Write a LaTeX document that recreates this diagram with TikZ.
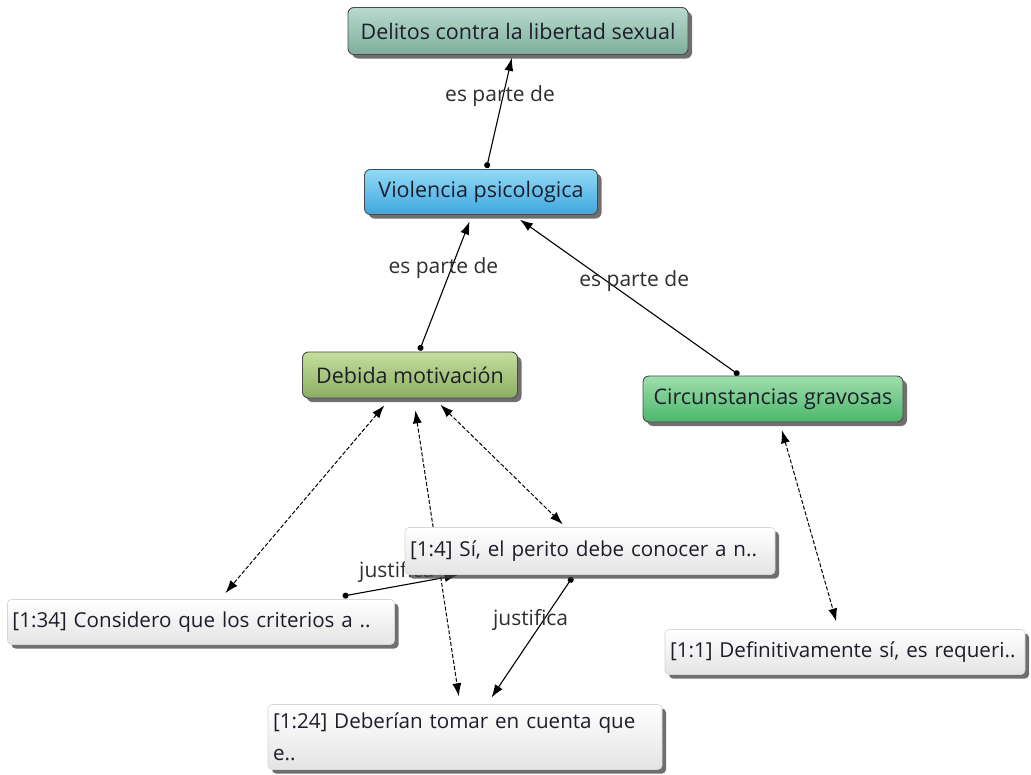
\documentclass[tikz,border=0pt]{standalone}
\usepackage{fontspec}
\setmainfont{Open Sans}
\usetikzlibrary{arrows.meta,shadows}
\definecolor{delTop}{HTML}{B8DACE}
\definecolor{delBot}{HTML}{7EAE9C}
\definecolor{vioTop}{HTML}{92DAF6}
\definecolor{vioBot}{HTML}{3FA6DE}
\definecolor{debTop}{HTML}{C4DE9E}
\definecolor{debBot}{HTML}{8CAE60}
\definecolor{cirTop}{HTML}{A0DEAE}
\definecolor{cirBot}{HTML}{4AB66A}
\definecolor{quoBot}{HTML}{E4E4E4}
\definecolor{quoBorder}{HTML}{D6D6D6}
\definecolor{boxBorder}{HTML}{4A4A4A}
\definecolor{txt}{HTML}{1E1E2A}
\definecolor{lbltxt}{HTML}{2E2E2E}
\pgfdeclarelayer{back}
\pgfdeclarelayer{bg}
\pgfsetlayers{back,bg,main}
\begin{document}
\begin{tikzpicture}[x=1pt,y=-1pt,
  shadowed/.style={drop shadow={shadow xshift=4pt,shadow yshift=-4pt,fill=black!75,opacity=0.75}},
  concept/.style={shadowed,draw=boxBorder,line width=0.9pt,rounded corners=6pt,
    inner sep=0pt,text=txt,font=\fontsize{21.5}{25}\selectfont},
  quote/.style={shadowed,draw=quoBorder,line width=0.6pt,rounded corners=4pt,
    top color=white,bottom color=quoBot,inner xsep=5pt,inner ysep=0pt,align=left,
    text=txt,font=\fontsize{20.6}{32}\selectfont},
  rel/.style={line width=1.1pt,{Circle[length=6pt]}-{Latex[length=13pt,width=9pt]},shorten <=1pt},
  link/.style={line width=1pt,dash pattern=on 4pt off 2pt,{Latex[length=13pt,width=9pt]}-{Latex[length=13pt,width=9pt]}},
  lbl/.style={text=lbltxt,font=\fontsize{21}{25}\selectfont,inner sep=0pt}
]
\begin{pgfonlayer}{back}
\fill[white] (0,0) rectangle (1031,774);
\end{pgfonlayer}
\useasboundingbox (0,0) rectangle (1031,774);

% concept nodes
\node[concept,top color=delTop,bottom color=delBot,minimum width=340pt,minimum height=47pt] (del) at (518,31) {Delitos contra la libertad sexual};
\node[concept,top color=vioTop,bottom color=vioBot,minimum width=233pt,minimum height=45pt] (vio) at (481,192) {Violencia psicologica};
\node[concept,top color=debTop,bottom color=debBot,minimum width=215pt,minimum height=46pt] (deb) at (410,375) {Debida motivación};
\node[concept,top color=cirTop,bottom color=cirBot,minimum width=260pt,minimum height=46pt] (cir) at (773,399) {Circunstancias gravosas};

% quotation nodes
\node[quote,text width=360pt,minimum height=47pt] (q4) at (590,551) {[1:4] Sí, el perito debe conocer a n..};
\node[quote,text width=377pt,minimum height=45pt] (q34) at (201,622) {[1:34] Considero que los criterios a ..};
\node[quote,text width=350pt,minimum height=45pt] (q1) at (845,652) {[1:1] Definitivamente sí, es requeri..};
\node[quote,text width=384pt,minimum height=65pt] (q24) at (465,737) {[1:24] Deberían tomar en cuenta que\\e..};

\begin{pgfonlayer}{bg}
\draw[rel,shorten >=3pt] (vio) -- node[lbl,pos=0.64,xshift=-3pt]{es parte de} (del);
\draw[rel,shorten >=7pt] (deb) -- node[lbl,pos=0.61,xshift=-8pt]{es parte de} (vio);
\draw[rel,shorten >=8pt] (cir) -- node[lbl,pos=0.59,xshift=28pt]{es parte de} (vio);
\draw[link,shorten <=9pt,shorten >=8pt] (deb) -- (q34);
\draw[link,shorten <=12pt,shorten >=8pt] (deb) -- (q24);
\draw[link,shorten <=9pt,shorten >=4pt] (deb) -- (q4);
\draw[link,shorten <=8pt,shorten >=8pt] (cir) -- (q1);
\draw[rel,shorten <=17pt,shorten >=2pt] (q34) -- node[lbl,pos=0.53,yshift=14pt]{justifica} (q4);
\draw[rel,shorten <=3pt,shorten >=8pt] (q4) -- node[lbl,pos=0.35,xshift=-13pt]{justifica} (q24);
\end{pgfonlayer}
\end{tikzpicture}
\end{document}
